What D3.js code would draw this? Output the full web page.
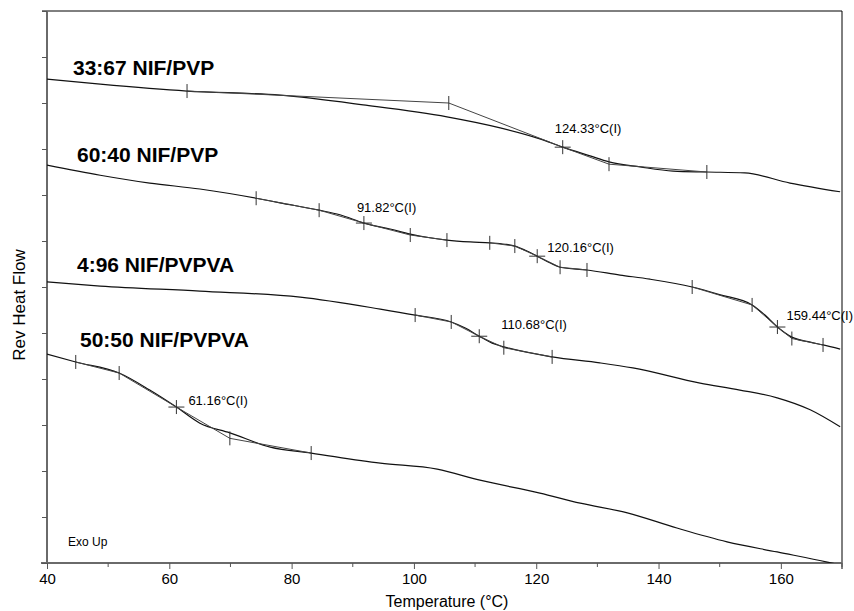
<!DOCTYPE html>
<html>
<head>
<meta charset="utf-8">
<script src="https://cdn.jsdelivr.net/npm/d3@7"></script>
<style>
  body { margin: 0; background: #fff; }
  svg { display: block; font-family: "Liberation Sans", Arial, sans-serif; }
</style>
</head>
<body>
<svg id="chart" width="854" height="611"></svg>
<script>
// sample names
const sampleNames = ["33:67 NIF/PVP", "60:40 NIF/PVP", "4:96 NIF/PVPVA", "50:50 NIF/PVPVA"];

// reversing heat flow traces (temperature in °C, offset heat flow units)
const temp3367 = [40, 48.7, 62.9, 78.1, 91.7, 105.4, 114.1, 120.6, 124.33, 128.8, 131.9, 137.0, 142.4, 147.9, 154.1, 161.5, 169.7];
const flow3367 = [10.52, 10.41, 10.26, 10.17, 9.96, 9.70, 9.46, 9.22, 9.04, 8.85, 8.72, 8.61, 8.52, 8.50, 8.48, 8.26, 8.07];

const temp6040 = [40, 48.7, 56.8, 65.0, 74.2, 78.1, 84.5, 87.9, 91.82, 96.1, 99.4, 102.6, 105.4, 109.2, 112.4, 114.9, 116.5, 118.2, 120.16, 122.3, 123.9, 128.3, 133.7, 138.6, 145.5, 150.1, 155.3, 157.4, 159.44, 161.8, 164.8, 166.9, 169.7];
const flow6040 = [8.65, 8.43, 8.26, 8.13, 7.93, 7.83, 7.67, 7.57, 7.39, 7.26, 7.15, 7.07, 7.02, 6.98, 6.96, 6.93, 6.89, 6.80, 6.67, 6.52, 6.43, 6.37, 6.26, 6.17, 6.00, 5.83, 5.61, 5.39, 5.13, 4.91, 4.80, 4.74, 4.65];

const temp0496 = [40, 48.7, 65.0, 81.4, 94.5, 100.2, 106.1, 108.4, 110.68, 112.8, 114.7, 122.6, 130.4, 135.8, 146.8, 153.3, 159.4, 164.8, 169.7];
const flow0496 = [6.11, 6.02, 5.91, 5.78, 5.52, 5.39, 5.24, 5.11, 4.93, 4.78, 4.70, 4.48, 4.35, 4.24, 3.91, 3.76, 3.59, 3.33, 2.96];

const temp5050 = [40, 44.7, 51.8, 56.8, 61.16, 65.0, 69.9, 76.5, 83.2, 94.5, 103.8, 110.8, 120.6, 127.2, 134.9, 143.0, 151.2, 159.4, 167.6, 170];
const flow5050 = [4.54, 4.37, 4.13, 3.76, 3.39, 3.04, 2.83, 2.52, 2.39, 2.17, 2.04, 1.80, 1.52, 1.30, 1.09, 0.76, 0.46, 0.24, 0.02, -0.05];

// glass transition analysis points: start, onset, inflection (Tg), end, stop
const tg3367Temp = [62.9, 105.7, 124.33, 131.9, 147.9];
const tg3367Flow = [10.26, 10.00, 9.04, 8.67, 8.50];

const tg6040aTemp = [74.2, 84.5, 91.82, 99.4, 105.4];
const tg6040aFlow = [7.93, 7.67, 7.39, 7.13, 7.02];
const tg6040bTemp = [112.4, 116.5, 120.16, 123.9, 128.3];
const tg6040bFlow = [6.96, 6.89, 6.67, 6.43, 6.37];
const tg6040cTemp = [145.5, 155.3, 159.44, 161.8, 166.9];
const tg6040cFlow = [6.00, 5.61, 5.13, 4.88, 4.74];

const tg0496Temp = [100.2, 106.1, 110.68, 114.7, 122.6];
const tg0496Flow = [5.39, 5.24, 4.93, 4.68, 4.48];

const tg5050Temp = [44.7, 51.8, 61.16, 69.9, 83.2];
const tg5050Flow = [4.37, 4.13, 3.39, 2.71, 2.39];

// axis ticks
const xMajorTicks = [40, 60, 80, 100, 120, 140, 160];
const xMinorTicks = [50, 70, 90, 110, 130, 150, 170];
const yTicks = [0, 1, 2, 3, 4, 5, 6, 7, 8, 9, 10, 11, 12];

const zip = (a, b) => a.map((v, i) => [v, b[i]]);

const traces = [
  { pts: zip(temp3367, flow3367), tgs: [zip(tg3367Temp, tg3367Flow)] },
  { pts: zip(temp6040, flow6040), tgs: [zip(tg6040aTemp, tg6040aFlow), zip(tg6040bTemp, tg6040bFlow), zip(tg6040cTemp, tg6040cFlow)] },
  { pts: zip(temp0496, flow0496), tgs: [zip(tg0496Temp, tg0496Flow)] },
  { pts: zip(temp5050, flow5050), tgs: [zip(tg5050Temp, tg5050Flow)] },
];

// where the name and Tg labels sit (pixels)
const namePos = [[73, 75], [77, 162], [77, 272], [80, 347]];
const tgLabelOffset = { "124.33": [-8, -14], "91.82": [-7, -11], "120.16": [10, -4], "159.44": [9, -7], "110.68": [22, -7], "61.16": [12, -2] };

const svg = d3.select("#chart");
const mLeft = 47, mRight = 842, mTop = 11, mBottom = 563;

const x = d3.scaleLinear().domain([40, 170]).range([mLeft, mRight]);
const y = d3.scaleLinear().domain([0, 12]).range([mBottom, mTop]);

svg.append("defs").append("clipPath").attr("id", "plot")
  .append("rect").attr("x", mLeft).attr("y", mTop).attr("width", mRight - mLeft).attr("height", mBottom - mTop);

// frame (top and right)
svg.append("line").attr("x1", mLeft - 5).attr("x2", mRight).attr("y1", mTop).attr("y2", mTop)
  .attr("stroke", "#000").attr("stroke-width", 1);
svg.append("line").attr("x1", mRight).attr("x2", mRight).attr("y1", mTop).attr("y2", mBottom + 6)
  .attr("stroke", "#000").attr("stroke-width", 1);

// axes
const xAxis = svg.append("g").attr("transform", `translate(0, ${mBottom})`)
  .call(d3.axisBottom(x).tickValues(xMajorTicks).tickSize(6).tickSizeOuter(0).tickFormat(d3.format("d")));
xAxis.append("g").attr("class", "minor").selectAll("line").data(xMinorTicks).enter().append("line")
  .attr("x1", (d) => x(d)).attr("x2", (d) => x(d)).attr("y1", 0).attr("y2", 4);
xAxis.select(".domain").attr("d", `M${mLeft - 6},0H${mRight}`);
xAxis.selectAll("text").attr("y", 21).attr("dy", 0)
  .style("font-size", "15px").style("font-family", "Liberation Sans, Arial, sans-serif").attr("fill", "#000");

const yAxis = svg.append("g").attr("transform", `translate(${mLeft}, 0)`)
  .call(d3.axisLeft(y).tickValues(yTicks).tickSize(5).tickSizeOuter(0).tickFormat(""));
yAxis.select(".domain").attr("d", `M0,${mTop}V${mBottom}`);

svg.selectAll(".domain").attr("stroke", "#6a6a6a").attr("stroke-width", 2);
svg.selectAll(".tick line").attr("stroke", "#555");
xAxis.selectAll(".minor line").attr("stroke", "#555");

// traces
const line = d3.line().x((d) => x(d[0])).y((d) => y(d[1])).curve(d3.curveMonotoneX);
const straight = d3.line().x((d) => x(d[0])).y((d) => y(d[1]));

const plot = svg.append("g").attr("clip-path", "url(#plot)");

traces.forEach((t) => {
  plot.append("path").attr("d", line(t.pts))
    .attr("fill", "none").attr("stroke", "#111").attr("stroke-width", 1.2);

  t.tgs.forEach((g) => {
    // baseline before, inflection tangent, baseline after
    [[g[0], g[1]], [g[1], g[2], g[3]], [g[3], g[4]]].forEach((seg) => {
      plot.append("path").attr("d", straight(seg))
        .attr("fill", "none").attr("stroke", "#444").attr("stroke-width", 1);
    });
    g.forEach((p, i) => {
      const px = x(p[0]), py = y(p[1]);
      svg.append("line").attr("x1", px).attr("x2", px).attr("y1", py - 7).attr("y2", py + 7)
        .attr("stroke", "#333").attr("stroke-width", 1);
      if (i === 2) {
        svg.append("line").attr("x1", px - 8).attr("x2", px + 8).attr("y1", py).attr("y2", py)
          .attr("stroke", "#333").attr("stroke-width", 1);
        const key = d3.format(".2f")(p[0]);
        const off = tgLabelOffset[key] || [8, -8];
        svg.append("text").attr("x", px + off[0]).attr("y", py + off[1])
          .style("font-size", "13px").attr("fill", "#000")
          .text(`${key}°C(I)`);
      }
    });
  });
});

// sample names
svg.selectAll(".name").data(sampleNames).enter().append("text")
  .attr("class", "name")
  .attr("x", (d, i) => namePos[i][0]).attr("y", (d, i) => namePos[i][1])
  .style("font-size", "21px").style("font-weight", "bold").attr("fill", "#000")
  .text((d) => d);

svg.append("text").attr("x", 68).attr("y", 546).style("font-size", "12px").attr("fill", "#000").text("Exo Up");

svg.append("text").attr("transform", "translate(25, 305) rotate(-90)")
  .attr("text-anchor", "middle").style("font-size", "17px").attr("fill", "#000").text("Rev Heat Flow");

svg.append("text").attr("x", 447).attr("y", 607).attr("text-anchor", "middle")
  .style("font-size", "16px").attr("fill", "#000").text("Temperature (°C)");
</script>
</body>
</html>
